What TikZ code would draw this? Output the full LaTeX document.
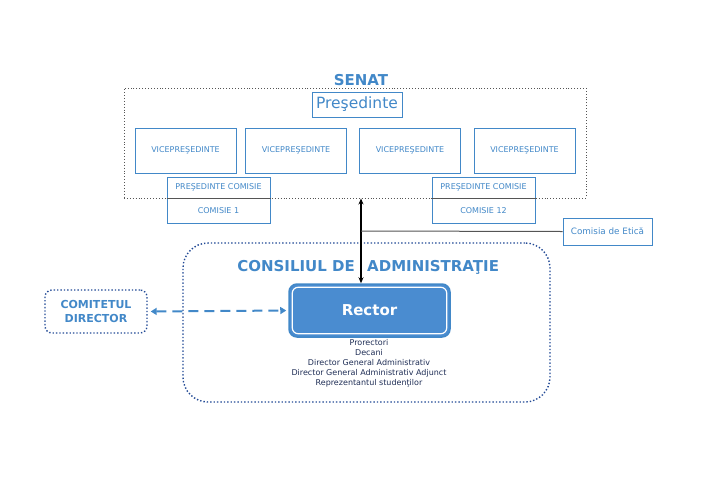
\documentclass[tikz,border=0pt]{standalone}
\usepackage{fontspec}
\setmainfont{DejaVu Sans}
\usetikzlibrary{arrows.meta}
\definecolor{mblue}{RGB}{66,136,200}
\definecolor{rblue}{RGB}{74,140,208}
\definecolor{navy}{RGB}{35,75,150}
\definecolor{dtext}{RGB}{30,45,85}
\definecolor{sgray}{RGB}{85,85,85}
\tikzset{
  bluebox/.style={draw=mblue, line width=1pt, text=mblue, inner sep=0pt, font=\fontsize{8}{9}\selectfont},
  senbox/.style={draw=sgray, dotted, line width=0.9pt, inner sep=0pt, minimum width=462pt, minimum height=110pt},
  vicebox/.style={bluebox, minimum width=101pt, minimum height=45pt},
  comtop/.style={bluebox, minimum width=103pt, minimum height=21pt},
  combot/.style={bluebox, minimum width=103pt, minimum height=25pt},
  rectorbox/.style={fill=rblue, draw=mblue, line width=1.5pt, rounded corners=8pt, minimum width=161pt, minimum height=53pt, text=white, font=\bfseries\fontsize{15}{15}\selectfont, inner sep=0pt},
  dotround/.style={draw=navy, dotted, line width=1.4pt, inner sep=0pt},
  titlefont/.style={text=mblue, font=\bfseries\fontsize{15}{15}\selectfont},
}
\begin{document}
\begin{tikzpicture}[x=1pt,y=-1pt]
\useasboundingbox (0,0) rectangle (720,480);
% Senate
\node[senbox] (senat) at (355,143) {};
\node[titlefont, inner sep=0pt] (senatlbl) at (361,80) {SENAT};
\node[bluebox, minimum width=90pt, minimum height=25pt, font=\fontsize{15.5}{15.5}\selectfont] (pres) at (357,104.5) {Preşedinte};
\node[vicebox] (v1) at (185.5,150.5) {VICEPREŞEDINTE};
\node[vicebox] (v2) at (296,150.5) {VICEPREŞEDINTE};
\node[vicebox] (v3) at (410,150.5) {VICEPREŞEDINTE};
\node[vicebox] (v4) at (524.5,150.5) {VICEPREŞEDINTE};
\node[comtop, fill=white] (pc1) at (218.5,187.5) {PREŞEDINTE COMISIE};
\node[combot, fill=white] (c1) at (218.5,210.5) {COMISIE 1};
\node[comtop, fill=white] (pc12) at (483.5,187.5) {PREŞEDINTE COMISIE};
\node[combot, fill=white] (c12) at (483.5,210.5) {COMISIE 12};
\draw[sgray, line width=1pt] (pc1.south west) -- (pc1.south east);
\draw[sgray, line width=1pt] (pc12.south west) -- (pc12.south east);
% Etica
\node[bluebox, minimum width=89pt, minimum height=27pt, font=\fontsize{8.8}{9}\selectfont] (etica) at (607.5,231.5) {Comisia de Etică};
% Consiliul
\node[dotround, rounded corners=25pt, minimum width=367pt, minimum height=159pt] (cons) at (366.5,322.5) {};
\node[titlefont, inner sep=0pt, anchor=base east] (conslbl) at (355,271) {CONSILIUL DE};
\node[titlefont, inner sep=0pt, anchor=base west] (conslbl2) at (367,271) {ADMINISTRAŢIE};
\node[dotround, rounded corners=7pt, minimum width=102pt, minimum height=43pt, align=center, text=mblue, font=\bfseries\fontsize{11}{13.5}\selectfont] (comit) at (96,311.5) {COMITETUL\\DIRECTOR};
\node[rectorbox] (rector) at (369.5,310.5) {Rector};
\draw[white, line width=1.2pt, rounded corners=6pt] ([shift={(4pt,-4pt)}]rector.north west) rectangle ([shift={(-4pt,4pt)}]rector.south east);
\node[text=dtext, align=center, inner sep=0pt, font=\fontsize{8}{10}\selectfont] (members) at (369,363.5) {Prorectori\\Decani\\Director General Administrativ\\Director General Administrativ Adjunct\\Reprezentantul studenţilor};
% connectors
\coordinate (junct) at (361,231);
\draw[black, line width=1.5pt, {Stealth[length=6pt,width=5pt]}-{Stealth[length=6pt,width=5pt]}] (senat.south -| junct) -- (rector.north -| junct);
\draw[sgray, line width=1pt] (junct) -- (etica.west);
\draw[mblue, line width=2pt, dash pattern=on 10pt off 6pt, {Triangle[length=6pt,width=7pt]}-{Triangle[length=6pt,width=7pt]}, shorten <=3pt, shorten >=2pt] (comit.east) -- (rector.west);
\end{tikzpicture}
\end{document}
